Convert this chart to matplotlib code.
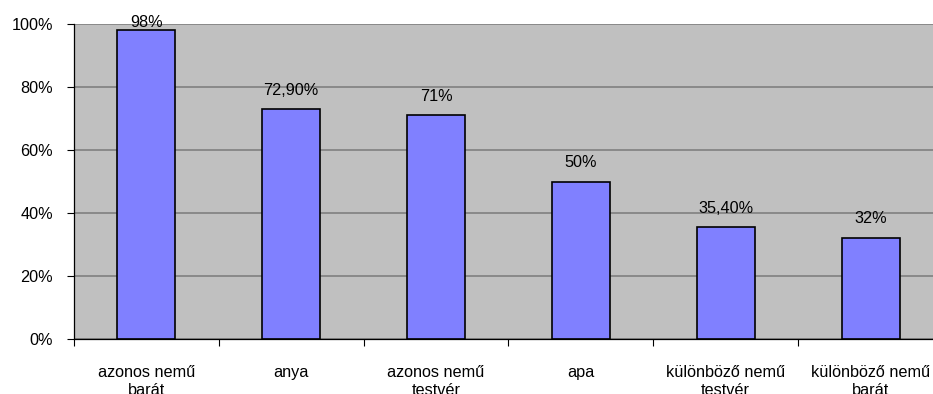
import numpy as np
import matplotlib
matplotlib.use("Agg")
import matplotlib.pyplot as plt
from matplotlib.ticker import FixedLocator, PercentFormatter

plt.rcParams["font.family"] = ["Liberation Sans", "DejaVu Sans"]

categories = [
    "azonos nemű\nbarát",
    "anya",
    "azonos nemű\ntestvér",
    "apa",
    "különböző nemű\ntestvér",
    "különböző nemű\nbarát",
]
values = [0.98, 0.729, 0.71, 0.50, 0.354, 0.32]
value_labels = ["98%", "72,90%", "71%", "50%", "35,40%", "32%"]
y_ticks = [0.0, 0.2, 0.4, 0.6, 0.8, 1.0]

FS = 11.7
W, H, DPI = 933, 394, 100
fig = plt.figure(figsize=(W / DPI, H / DPI), dpi=DPI)

# plot area in pixels: left 74, right 943 (runs past the canvas), top 24, bottom 339
left, right, top, bottom = 74, 943, 24, 339
ax = fig.add_axes([left / W, 1 - bottom / H, (right - left) / W, (bottom - top) / H])

ax.set_facecolor("#C0C0C0")
x = np.arange(len(categories))
ax.bar(x, values, width=0.4, color="#8080FF", edgecolor="black", linewidth=1.2, zorder=3)

ax.set_xlim(-0.5, len(categories) - 0.5)
ax.set_ylim(0, 1)

ax.set_yticks(y_ticks)
ax.yaxis.set_major_formatter(PercentFormatter(1.0, decimals=0))
ax.yaxis.grid(True, color="#808080", linewidth=1.2, zorder=1)
ax.tick_params(axis="y", length=5, width=0.8, pad=10, labelsize=FS, colors="black")

ax.set_xticks(x)
ax.set_xticklabels(categories, fontsize=FS, linespacing=1.2)
ax.xaxis.set_minor_locator(FixedLocator(np.arange(-0.5, len(categories), 1.0)))
ax.tick_params(axis="x", which="major", length=0, pad=19)
ax.tick_params(axis="x", which="minor", length=5, width=0.8)

for side in ("top", "right"):
    ax.spines[side].set_visible(False)
for side in ("left", "bottom"):
    ax.spines[side].set_color("black")
    ax.spines[side].set_linewidth(0.9)
    ax.spines[side].set_zorder(4)

# value labels sit above each bar, kept inside the plot area near the top
for xi, v, lab in zip(x, values, value_labels):
    y_lab = min(v + 0.047, 0.99)
    ax.text(xi, y_lab, lab, ha="center", va="baseline", fontsize=FS, clip_on=False, zorder=5)

fig.savefig("out.png", dpi=DPI)
